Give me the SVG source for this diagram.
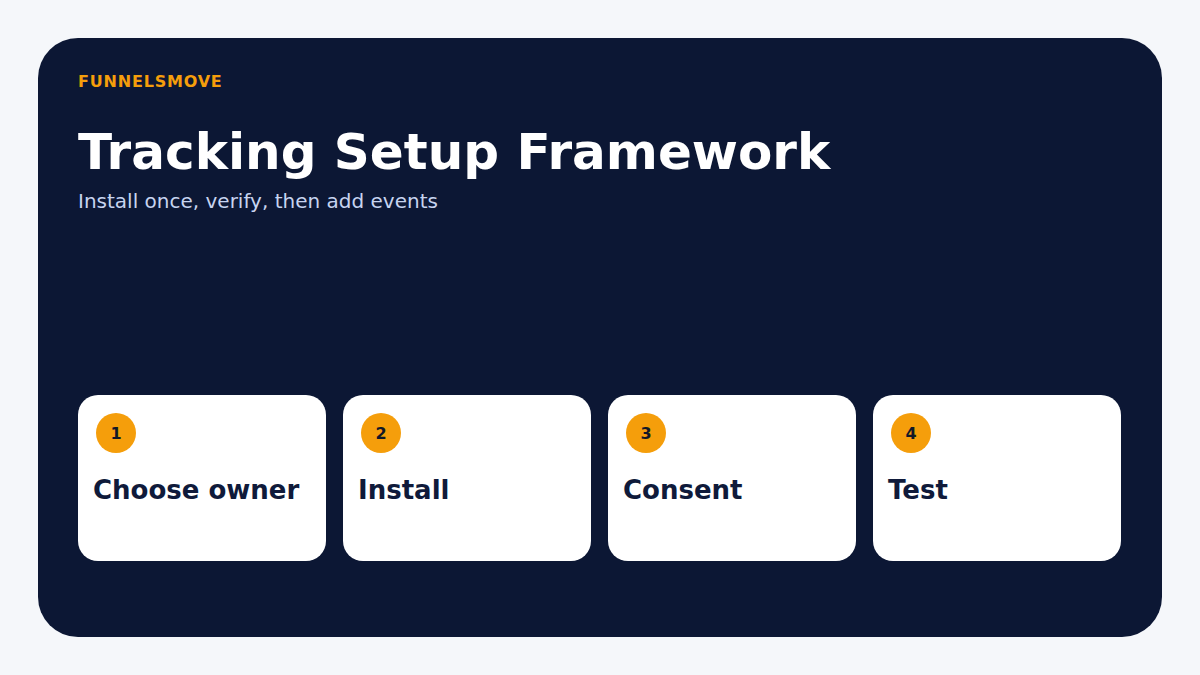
<svg xmlns="http://www.w3.org/2000/svg" width="1200" height="675" viewBox="0 0 1200 675">
<style>
text{font-family:"DejaVu Sans",sans-serif}
.card{fill:#fff}
.badge{fill:#f59e0b}
.num{font-size:16px;font-weight:bold;fill:#111827;text-anchor:middle}
.lbl{font-size:26px;font-weight:bold;fill:#0f1a3a}
</style>
<rect width="1200" height="675" fill="#f5f7fa"/>
<rect x="38" y="38" width="1124" height="599" rx="40" fill="#0c1734"/>
<text x="78" y="87" font-size="16" font-weight="bold" fill="#f59e0b" letter-spacing="0.8">FUNNELSMOVE</text>
<text x="78" y="169" font-size="50" font-weight="bold" fill="#fff">Tracking Setup Framework</text>
<text x="78" y="208" font-size="20" fill="#c7d4f0">Install once, verify, then add events</text>
<g id="connectors"/>
<g id="n1"><rect class="card" x="78" y="395" width="248" height="166" rx="20"/><circle class="badge" cx="116" cy="433" r="20"/><text class="num" x="116" y="439">1</text><text class="lbl" x="93" y="499">Choose owner</text></g>
<g id="n2"><rect class="card" x="343" y="395" width="248" height="166" rx="20"/><circle class="badge" cx="381" cy="433" r="20"/><text class="num" x="381" y="439">2</text><text class="lbl" x="358" y="499">Install</text></g>
<g id="n3"><rect class="card" x="608" y="395" width="248" height="166" rx="20"/><circle class="badge" cx="646" cy="433" r="20"/><text class="num" x="646" y="439">3</text><text class="lbl" x="623" y="499">Consent</text></g>
<g id="n4"><rect class="card" x="873" y="395" width="248" height="166" rx="20"/><circle class="badge" cx="911" cy="433" r="20"/><text class="num" x="911" y="439">4</text><text class="lbl" x="888" y="499">Test</text></g>
</svg>
